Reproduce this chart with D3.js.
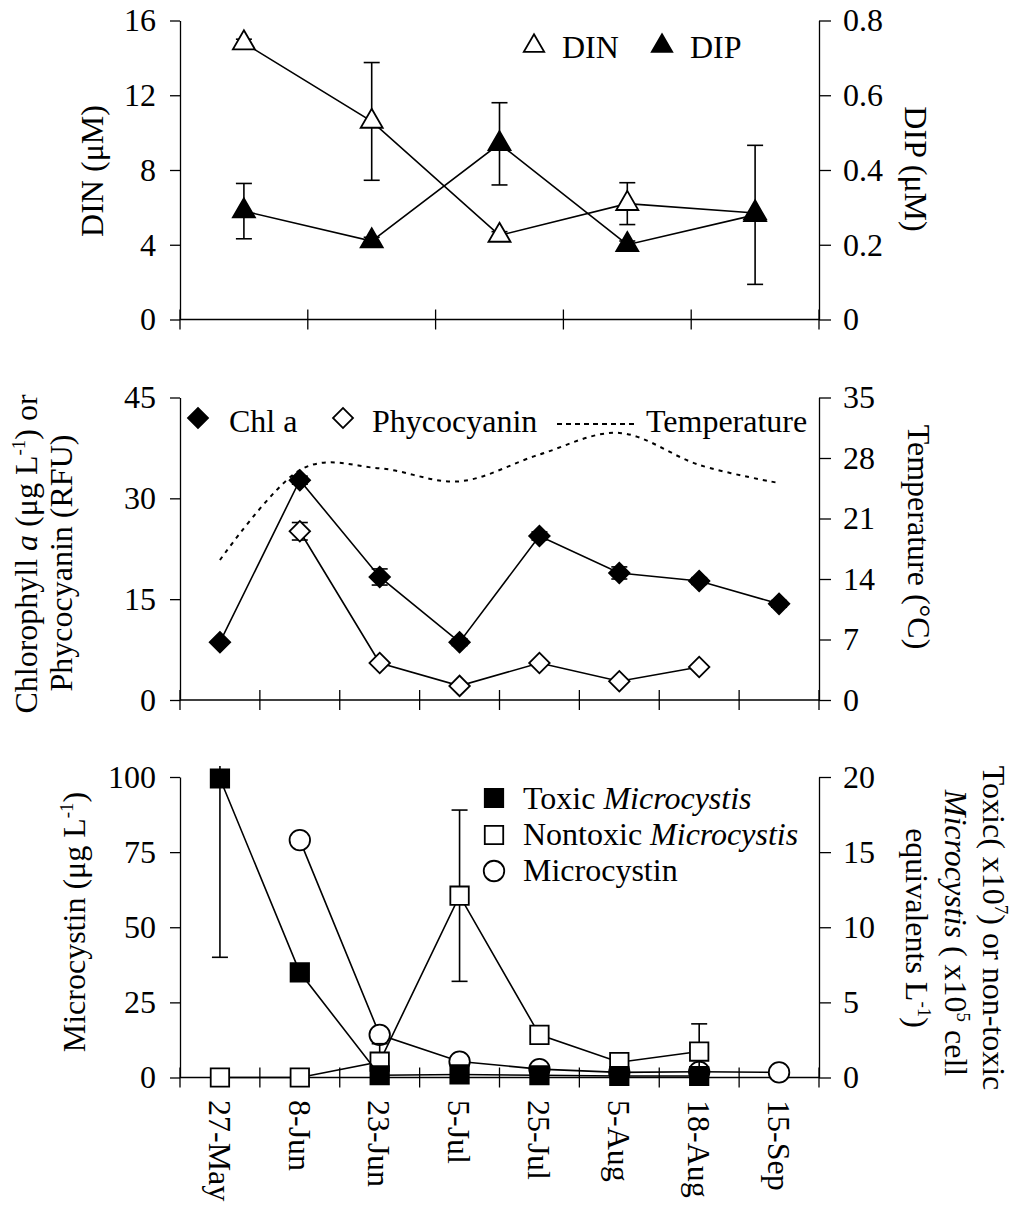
<!DOCTYPE html>
<html>
<head>
<meta charset="utf-8">
<script src="https://cdn.jsdelivr.net/npm/d3@7"></script>
<style>
  body { margin: 0; background: #fff; }
  svg text { font-family: "Liberation Serif", "Times New Roman", serif; fill: #000; }
</style>
</head>
<body>
<svg id="chart" width="1014" height="1206"></svg>
<script>
// ---- top panel: nutrients (5 sampling events) ----
const nutSamples = ["S1", "S2", "S3", "S4", "S5"];
const din = [14.8, 10.6, 4.5, 6.2, 5.7];
const dinErr = [0.2, 3.15, 0.2, 1.12, 0];
const dip = [0.29, 0.21, 0.47, 0.2, 0.28];
const dipErr = [0.074, 0.01, 0.11, 0.01, 0.186];
const dinTicks = [0, 4, 8, 12, 16];
const dipTicks = [0, 0.2, 0.4, 0.6, 0.8];

// ---- middle + bottom panels ----
const dates = ["27-May", "8-Jun", "23-Jun", "5-Jul", "25-Jul", "5-Aug", "18-Aug", "15-Sep"];
const chla = [8.6, 32.7, 18.3, 8.6, 24.4, 18.9, 17.7, 14.3];
const chlaErr = [0.3, 0.6, 1.2, 0.5, 0.6, 0.9, 0.5, 0.5];
const phyco = [null, 25.1, 5.5, 2.1, 5.5, 2.8, 4.9, null];
const phycoErr = [null, 1.3, 0.3, 0.3, 0.3, 0.3, 0.3, null];
const temp = [16.2, 26.6, 26.8, 25.3, 28.4, 30.9, 27.2, 25.1];
const chlTicks = [0, 15, 30, 45];
const tempTicks = [0, 7, 14, 21, 28, 35];

const toxic = [19.9, 7.0, 0.15, 0.2, 0.15, 0.1, 0.1, null];
const toxicErr = [11.9, 0, 0, 0, 0, 0, 0, null];
const nontoxic = [0, 0, 1.05, 12.1, 2.84, 1.02, 1.73, null];
const nontoxicErr = [0, 0, 1.2, 5.7, 0, 0, 1.84, null];
const microcystin = [null, 79, 14.2, 5.3, 2.8, 1.7, 1.9, 1.7];
const mcTicks = [0, 25, 50, 75, 100];
const cellTicks = [0, 5, 10, 15, 20];

const svg = d3.select("#chart");
const FONT = "'Liberation Serif','Times New Roman',serif";
const FS = 32;

const xNut = d3.scaleBand().domain(nutSamples).range([180, 819]);
const yDIN = d3.scaleLinear().domain([0, 16]).range([319.5, 20.5]);
const yDIP = d3.scaleLinear().domain([0, 0.8]).range([319.5, 20.5]);
const xDate = d3.scaleBand().domain(dates).range([180, 819]);
const yChl = d3.scaleLinear().domain([0, 45]).range([700, 397.5]);
const yTemp = d3.scaleLinear().domain([0, 35]).range([700, 397.5]);
const yMC = d3.scaleLinear().domain([0, 100]).range([1077.5, 777]);
const yCell = d3.scaleLinear().domain([0, 20]).range([1077.5, 777]);

function axes(x, yL, yR, ticksL, ticksR) {
  const [x0, x1] = x.range();
  svg.append("g")
    .attr("transform", `translate(${x0},0)`)
    .call(d3.axisLeft(yL).tickValues(ticksL).tickFormat(String).tickSize(10).tickPadding(14).tickSizeOuter(0))
    .attr("font-family", FONT).attr("font-size", FS);
  svg.append("g")
    .attr("transform", `translate(${x1},0)`)
    .call(d3.axisRight(yR).tickValues(ticksR).tickFormat(String).tickSize(12).tickPadding(12).tickSizeOuter(0))
    .attr("font-family", FONT).attr("font-size", FS);
  const y0 = yL.range()[0];
  svg.append("line").attr("x1", x0).attr("x2", x1).attr("y1", y0).attr("y2", y0)
    .attr("stroke", "#000").attr("stroke-width", 1.3);
  // crossing tick marks at category boundaries
  const bounds = x.domain().map(d => x(d)).concat([x1]);
  svg.append("g").selectAll("line").data(bounds).join("line")
    .attr("x1", d => d).attr("x2", d => d)
    .attr("y1", y0 - 10).attr("y2", y0 + 10)
    .attr("stroke", "#000").attr("stroke-width", 1.3);
  svg.selectAll(".domain").attr("stroke-width", 1.3);
  svg.selectAll(".tick line").attr("stroke-width", 1.3);
}

function series(x, y, vals, errs, shape, fill, size, rotate) {
  const cx = i => x(x.domain()[i]) + x.bandwidth() / 2;
  const pts = vals.map((v, i) => ({ i, v, e: errs ? errs[i] : 0 })).filter(d => d.v != null);
  const g = svg.append("g");
  g.append("path")
    .datum(pts)
    .attr("fill", "none").attr("stroke", "#000").attr("stroke-width", 1.6)
    .attr("d", d3.line().x(d => cx(d.i)).y(d => y(d.v)));
  const top = y.range()[1] - 11;
  const eb = g.append("g").selectAll("g").data(pts.filter(d => d.e > 0)).join("g")
    .attr("stroke", "#000").attr("stroke-width", 1.6);
  eb.append("line")
    .attr("x1", d => cx(d.i)).attr("x2", d => cx(d.i))
    .attr("y1", d => Math.max(top, y(d.v + d.e))).attr("y2", d => y(Math.max(0, d.v - d.e)));
  eb.filter(d => y(d.v + d.e) >= top).append("line")
    .attr("x1", d => cx(d.i) - 8).attr("x2", d => cx(d.i) + 8)
    .attr("y1", d => y(d.v + d.e)).attr("y2", d => y(d.v + d.e));
  eb.filter(d => d.v - d.e > 0).append("line")
    .attr("x1", d => cx(d.i) - 8).attr("x2", d => cx(d.i) + 8)
    .attr("y1", d => y(d.v - d.e)).attr("y2", d => y(d.v - d.e));
  return { g, pts, cx, shape, fill, size, rotate, y };
}

function markers(s) {
  s.g.append("g").selectAll("path").data(s.pts).join("path")
    .attr("d", d3.symbol(s.shape, s.size))
    .attr("transform", d => `translate(${s.cx(d.i)},${s.y(d.v)}) rotate(${s.rotate || 0})`)
    .attr("fill", s.fill).attr("stroke", "#000").attr("stroke-width", 1.8);
}

function legendMark(x, y, shape, fill, size, rotate, dash) {
  if (dash) {
    svg.append("line").attr("x1", x).attr("x2", x + 80).attr("y1", y).attr("y2", y)
      .attr("stroke", "#000").attr("stroke-width", 2).attr("stroke-dasharray", "5,4");
    return;
  }
  svg.append("path").attr("d", d3.symbol(shape, size))
    .attr("transform", `translate(${x},${y}) rotate(${rotate || 0})`)
    .attr("fill", fill).attr("stroke", "#000").attr("stroke-width", 1.8);
}

function label(x, y, angle, lines) {
  const t = svg.append("text").attr("transform", `translate(${x},${y}) rotate(${angle})`)
    .attr("text-anchor", "middle").attr("font-size", FS);
  lines.forEach(([txt, style]) => {
    const s = t.append("tspan").text(txt);
    if (style === "i") s.attr("font-style", "italic");
    if (style === "sup") s.attr("font-size", 19).attr("dy", -12);
    if (style === "after") s.attr("dy", 12);
  });
  return t;
}

// ===== top panel =====
axes(xNut, yDIN, yDIP, dinTicks, dipTicks);
const sDin = series(xNut, yDIN, din, dinErr, d3.symbolTriangle, "#fff", 210);
markers(sDin);
const sDip = series(xNut, yDIP, dip, dipErr, d3.symbolTriangle, "#000", 210);
markers(sDip);
legendMark(534, 46, d3.symbolTriangle, "#fff", 180);
svg.append("text").attr("x", 562).attr("y", 58).attr("font-size", FS).text("DIN");
legendMark(662, 46, d3.symbolTriangle, "#000", 180);
svg.append("text").attr("x", 690).attr("y", 58).attr("font-size", FS).text("DIP");
label(103, 171, -90, [["DIN (μM)"]]);
label(905, 169, 90, [["DIP (μM)"]]);

// ===== middle panel =====
axes(xDate, yChl, yTemp, chlTicks, tempTicks);
svg.append("path")
  .datum(temp)
  .attr("fill", "none").attr("stroke", "#000").attr("stroke-width", 2).attr("stroke-dasharray", "4,5")
  .attr("d", d3.line().curve(d3.curveCatmullRom.alpha(0))
    .x((d, i) => xDate(dates[i]) + xDate.bandwidth() / 2).y(d => yTemp(d)));
const sChl = series(xDate, yChl, chla, chlaErr, d3.symbolSquare, "#000", 210, 45);
markers(sChl);
const sPhy = series(xDate, yChl, phyco, phycoErr, d3.symbolSquare, "#fff", 210, 45);
markers(sPhy);
legendMark(198, 418, d3.symbolSquare, "#000", 200, 45);
svg.append("text").attr("x", 229).attr("y", 432).attr("font-size", FS).text("Chl a");
legendMark(343, 418, d3.symbolSquare, "#fff", 200, 45);
svg.append("text").attr("x", 372).attr("y", 432).attr("font-size", FS).text("Phycocyanin");
legendMark(557, 424, null, null, 0, 0, true);
svg.append("text").attr("x", 646).attr("y", 432).attr("font-size", FS).text("Temperature");
label(37, 554, -90, [["Chlorophyll "], ["a", "i"], [" (μg L"], ["-1", "sup"], [") or", "after"]]);
label(72, 563, -90, [["Phycocyanin (RFU)"]]);
label(908, 537, 90, [["Temperature (°C)"]]);

// ===== bottom panel =====
axes(xDate, yMC, yCell, mcTicks, cellTicks);
const sMc = series(xDate, yMC, microcystin, null, d3.symbolCircle, "#fff", 330);
const sNon = series(xDate, yCell, nontoxic, nontoxicErr, d3.symbolSquare, "#fff", 340);
markers(sNon);
markers(sMc);
const sTox = series(xDate, yCell, toxic, toxicErr, d3.symbolSquare, "#000", 340);
markers(sTox);

legendMark(494, 798, d3.symbolSquare, "#000", 340);
legendMark(494, 835, d3.symbolSquare, "#fff", 340);
legendMark(494, 871, d3.symbolCircle, "#fff", 330);
const lg = [
  [809, [["Toxic "], ["Microcystis", "i"]]],
  [845, [["Nontoxic "], ["Microcystis", "i"]]],
  [881, [["Microcystin"]]]
];
lg.forEach(([y, parts]) => {
  const t = svg.append("text").attr("x", 523).attr("y", y).attr("font-size", FS);
  parts.forEach(([txt, st]) => {
    const s = t.append("tspan").text(txt);
    if (st === "i") s.attr("font-style", "italic");
  });
});

label(85, 922, -90, [["Microcystin (μg L"], ["-1", "sup"], [")", "after"]]);
label(983, 928, 90, [["Toxic( x10"], ["7", "sup"], [") or non-toxic", "after"]]);
label(945, 933, 90, [["Microcystis", "i"], [" ( x10"], ["5", "sup"], [" cell", "after"]]);
label(906, 928, 90, [["equivalents L"], ["-1", "sup"], [")", "after"]]);

// date labels
svg.append("g").selectAll("text").data(dates).join("text")
  .attr("transform", d => `translate(${xDate(d) + xDate.bandwidth() / 2},1100) rotate(90)`)
  .attr("dy", "0.35em").attr("font-size", FS)
  .text(d => d);
</script>
</body>
</html>
